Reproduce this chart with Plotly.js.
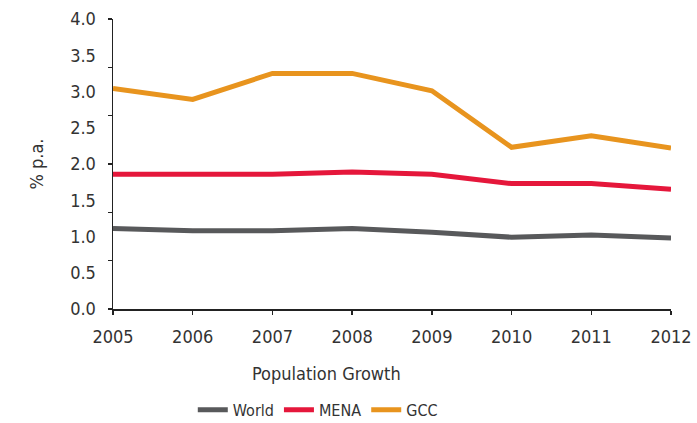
<!DOCTYPE html>
<html>
<head>
<meta charset="utf-8">
<script src="https://cdn.plot.ly/plotly-3.0.1.min.js"></script>
<style>html,body{margin:0;padding:0;background:#fff;}#chart{width:697px;height:423px;}</style>
</head>
<body>
<div id="chart"></div>
<script>
var years = ['2005','2006','2007','2008','2009','2010','2011','2012'];
var world = [1.11, 1.08, 1.08, 1.11, 1.06, 0.99, 1.02, 0.98];
var mena  = [1.86, 1.86, 1.86, 1.89, 1.86, 1.73, 1.73, 1.65];
var gcc   = [3.04, 2.89, 3.25, 3.25, 3.01, 2.23, 2.39, 2.22];
var yTickVals = [0, 0.5, 1, 1.5, 2, 2.5, 3, 3.5, 4];
var yTickText = ['0.0','0.5','1.0','1.5','2.0','2.5','3.0','3.5','4.0'];
var yMarkVals = [0, 4/6, 8/6, 2, 16/6, 20/6, 4];

var FONT = '"Liberation Sans Narrow", "Arial Narrow", "DejaVu Sans Condensed", sans-serif';
function tr(name, y, color) {
  return {x: years, y: y, name: name, type: 'scatter', mode: 'lines',
          line: {color: color, width: 5}, yaxis: 'y'};
}
var data = [
  tr('World', world, '#58595B'),
  tr('MENA', mena, '#E5173B'),
  tr('GCC', gcc, '#E8941E'),
  {x: years, y: [null,null,null,null,null,null,null,null], yaxis: 'y2', showlegend: false, hoverinfo: 'skip', type: 'scatter', mode: 'lines'}
];
var layout = {
  width: 697, height: 423,
  margin: {l: 113, r: 26, t: 19, b: 114, autoexpand: false},
  paper_bgcolor: '#fff', plot_bgcolor: '#fff',
  font: {family: FONT, size: 18, color: '#333'},
  showlegend: true,
  legend: {orientation: 'h', x: 0.367, xanchor: 'center', yref: 'container', y: 0.031, yanchor: 'middle',
           font: {family: FONT, size: 16, color: '#333'}, traceorder: 'normal', itemwidth: 30},
  xaxis: {type: 'category', range: [0, 7], showgrid: false, zeroline: false,
          showline: true, linecolor: '#222', linewidth: 1.5,
          ticks: 'outside', ticklen: 4, tickcolor: '#222', tickwidth: 1.5,
          ticklabelstandoff: 7, automargin: false,
          tickfont: {family: FONT, size: 18, color: '#333'}},
  yaxis: {range: [0, 4], showgrid: false, zeroline: false,
          showline: true, linecolor: '#222', linewidth: 1.5,
          tickvals: yTickVals, ticktext: yTickText, ticks: '',
          ticklabelstandoff: 12, automargin: false,
          tickfont: {family: FONT, size: 18, color: '#333'},
          title: {text: '% p.a.', font: {family: FONT, size: 18, color: '#333'}, standoff: 22}},
  yaxis2: {range: [0, 4], overlaying: 'y', side: 'left', showgrid: false, zeroline: false,
           showline: false, showticklabels: false, tickvals: yMarkVals,
           ticks: 'outside', ticklen: 4, tickcolor: '#222', tickwidth: 1.5},
  annotations: [{text: 'Population Growth', xref: 'paper', yref: 'paper', x: 0.3835, y: -0.2207,
                 xanchor: 'center', yanchor: 'middle', showarrow: false,
                 font: {family: FONT, size: 18, color: '#333'}}]
};
Plotly.newPlot('chart', data, layout, {displayModeBar: false, staticPlot: true});
</script>
</body>
</html>
